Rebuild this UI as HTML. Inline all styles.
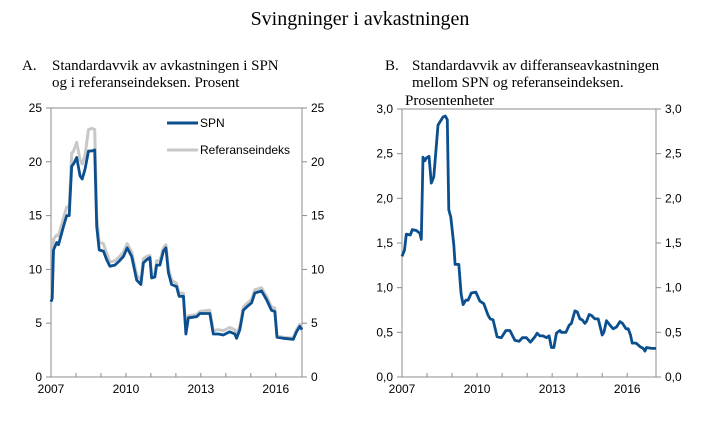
<!DOCTYPE html>
<html><head><meta charset="utf-8"><style>
body{margin:0;background:#fff}
svg{display:block}
.s{font-family:"Liberation Serif",serif;fill:#000}
.t{font-family:"Liberation Sans",sans-serif;font-size:12px;fill:#000}
</style></head><body>
<svg id="c" width="719" height="425" xmlns="http://www.w3.org/2000/svg">
<text class="s" x="360" y="25" text-anchor="middle" font-size="20">Svingninger i avkastningen</text>
<text class="s" x="22" y="70" font-size="15">A.</text>
<text class="s" x="52" y="70" font-size="15">Standardavvik av avkastningen i SPN</text>
<text class="s" x="52" y="87" font-size="15">og i referanseindeksen. Prosent</text>
<text class="s" x="385" y="70" font-size="15">B.</text>
<text class="s" x="412" y="70" font-size="15">Standardavvik av differanseavkastningen</text>
<text class="s" x="412" y="87" font-size="15">mellom SPN og referanseindeksen.</text>
<text class="s" x="405" y="105" font-size="15">Prosentenheter</text>
<g id="pa"></g>
<g id="pb"></g>
</svg>
<script>
const yearsA=[2007.0,2007.05,2007.1,2007.23,2007.3,2007.5,2007.63,2007.73,2007.83,2007.9,2008.03,2008.16,2008.25,2008.36,2008.5,2008.63,2008.75,2008.83,2008.93,2009.1,2009.23,2009.36,2009.56,2009.7,2009.9,2010.05,2010.23,2010.43,2010.6,2010.7,2010.83,2010.96,2011.03,2011.16,2011.23,2011.36,2011.5,2011.6,2011.7,2011.83,2012.03,2012.13,2012.3,2012.4,2012.5,2012.83,2012.96,2013.36,2013.5,2013.7,2013.9,2014.16,2014.36,2014.43,2014.56,2014.7,2014.83,2015.03,2015.16,2015.43,2015.63,2015.83,2015.96,2016.05,2016.3,2016.7,2016.83,2016.96,2017.05];
const spn=[7.0,7.3,11.8,12.5,12.3,14,15,15,19.6,19.8,20.4,18.7,18.4,19.3,21,21,21.1,14,11.8,11.7,10.9,10.3,10.4,10.7,11.2,12,11.2,9,8.6,10.6,10.9,11.1,9.2,9.3,10.4,10.4,11.7,12,9.7,8.6,8.4,7.5,7.5,4.0,5.5,5.6,5.9,5.9,4.0,4.0,3.9,4.2,4.0,3.6,4.4,6.2,6.5,6.9,7.8,8.0,7.2,6.2,6.1,3.7,3.6,3.5,4.2,4.7,4.4];
const refIdx=[7.4,7.8,12.8,13.2,13.1,14.8,15.8,15.8,20.8,21.0,21.8,20.2,19.8,20.6,23.0,23.1,23.0,15,12.5,12.4,11.5,10.7,10.8,11.1,11.6,12.4,11.6,9.5,9.0,11.0,11.2,11.3,9.5,9.6,10.8,10.8,12.0,12.3,10.1,9.0,8.7,7.8,7.8,4.3,5.7,5.8,6.1,6.2,4.3,4.4,4.3,4.6,4.4,4.0,4.7,6.5,6.8,7.2,8.1,8.3,7.5,6.5,6.4,3.8,3.7,3.6,4.4,4.9,4.5];
const yearsB=[2007.0,2007.1,2007.17,2007.33,2007.41,2007.57,2007.71,2007.77,2007.84,2007.91,2007.97,2008.08,2008.17,2008.27,2008.44,2008.64,2008.73,2008.81,2008.87,2008.95,2009.07,2009.12,2009.27,2009.36,2009.44,2009.55,2009.64,2009.77,2009.95,2010.11,2010.27,2010.44,2010.53,2010.64,2010.8,2010.97,2011.15,2011.31,2011.51,2011.68,2011.81,2011.97,2012.13,2012.31,2012.4,2012.51,2012.64,2012.77,2012.88,2012.97,2013.07,2013.17,2013.31,2013.37,2013.55,2013.68,2013.77,2013.91,2014.0,2014.11,2014.2,2014.31,2014.37,2014.48,2014.57,2014.71,2014.84,2015.0,2015.07,2015.17,2015.31,2015.44,2015.57,2015.71,2015.81,2015.95,2016.04,2016.13,2016.2,2016.35,2016.51,2016.64,2016.71,2016.77,2016.97,2017.15];
const diff=[1.35,1.42,1.6,1.59,1.65,1.64,1.61,1.54,2.46,2.42,2.45,2.47,2.17,2.24,2.82,2.91,2.92,2.88,1.87,1.79,1.48,1.26,1.26,0.93,0.81,0.86,0.86,0.94,0.95,0.85,0.82,0.69,0.65,0.64,0.45,0.44,0.52,0.52,0.41,0.40,0.44,0.44,0.39,0.45,0.49,0.46,0.46,0.44,0.46,0.33,0.33,0.49,0.52,0.5,0.5,0.58,0.6,0.74,0.73,0.65,0.64,0.6,0.62,0.70,0.69,0.65,0.65,0.47,0.5,0.63,0.58,0.54,0.56,0.62,0.6,0.54,0.54,0.47,0.38,0.38,0.34,0.32,0.29,0.33,0.32,0.32];
const xTicks=[2007,2010,2013,2016];
const ticksA=[0,5,10,15,20,25];
const ticksALabels=["0","5","10","15","20","25"];
const ticksB=[0,0.5,1,1.5,2,2.5,3];
const ticksBLabels=["0,0","0,5","1,0","1,5","2,0","2,5","3,0"];

const NS="http://www.w3.org/2000/svg";
function mk(parent,tag,attrs){const e=document.createElementNS(NS,tag);for(const k in attrs)e.setAttribute(k,attrs[k]);parent.appendChild(e);return e;}

function panel(g,cfg){
  const x=v=>cfg.x0+(v-cfg.d0)/(cfg.d1-cfg.d0)*(cfg.x1-cfg.x0);
  const y=v=>cfg.yb-(v-cfg.v0)/(cfg.v1-cfg.v0)*(cfg.yb-cfg.yt);
  const ax="#8c8c8c";
  const frame=mk(g,'rect',{x:cfg.x0,y:cfg.yt,width:cfg.x1-cfg.x0,height:cfg.yb-cfg.yt,fill:'none',stroke:ax,'stroke-width':1});
  
  
  cfg.yt_.forEach((v,i)=>{
    const l=mk(g,'line',{x1:cfg.x0-5,x2:cfg.x0,y1:y(v),y2:y(v),stroke:ax});
    
    
    const r=mk(g,'line',{x1:cfg.x1,x2:cfg.x1+5,y1:y(v),y2:y(v),stroke:ax});
    
    
    const t1=mk(g,'text',{x:cfg.x0-9,y:y(v)+4,'text-anchor':'end','class':'t'});t1.textContent=cfg.yl[i];
    
    
    const t2=mk(g,'text',{x:cfg.x1+9,y:y(v)+4,'class':'t'});t2.textContent=cfg.yl[i];
    
    
  });
  for(let yr=cfg.d0;yr<=cfg.d1-0.5;yr++){
    const l=mk(g,'line',{x1:x(yr),x2:x(yr),y1:cfg.yb,y2:cfg.yb-4,stroke:ax});
    
    
  }
  xTicks.forEach(v=>{
    const t=mk(g,'text',{x:x(v),y:cfg.yb+16,'text-anchor':'middle','class':'t'});t.textContent=String(v);
    
    
  });
  cfg.series.forEach(s=>{
    const p=mk(g,'polyline',{points:s.xs.map((v,i)=>x(v).toFixed(1)+','+y(s.ys[i]).toFixed(1)).join(' '),fill:'none',stroke:s.c,'stroke-width':s.w,'stroke-linejoin':'round'});
    
    
  });
}
panel(document.getElementById('pa'),{x0:51,x1:302,d0:2007,d1:2017.05,yt:108,yb:377,v0:0,v1:25,yt_:ticksA,yl:ticksALabels,
  series:[{xs:yearsA,ys:refIdx,c:'#c8c8c8',w:3,name:'series-referanseindeks'},{xs:yearsA,ys:spn,c:'#0b4f8f',w:2.8,name:'series-spn'}]});
panel(document.getElementById('pb'),{x0:402,x1:656,d0:2007,d1:2017.15,yt:109,yb:377,v0:0,v1:3,yt_:ticksB,yl:ticksBLabels,
  series:[{xs:yearsB,ys:diff,c:'#0b4f8f',w:2.8,name:'series-differanse'}]});
const g=document.getElementById('pa');
const leg=mk(g,'g',{});


const l1=mk(leg,'line',{x1:167,x2:198,y1:123,y2:123,stroke:'#0b4f8f','stroke-width':3});


const t1=mk(leg,'text',{x:200,y:127,'class':'t'});t1.textContent='SPN';


const l2=mk(leg,'line',{x1:167,x2:198,y1:150,y2:150,stroke:'#c8c8c8','stroke-width':3});


const t2=mk(leg,'text',{x:200,y:154,'class':'t'});t2.textContent='Referanseindeks';


</script>
</body></html>
